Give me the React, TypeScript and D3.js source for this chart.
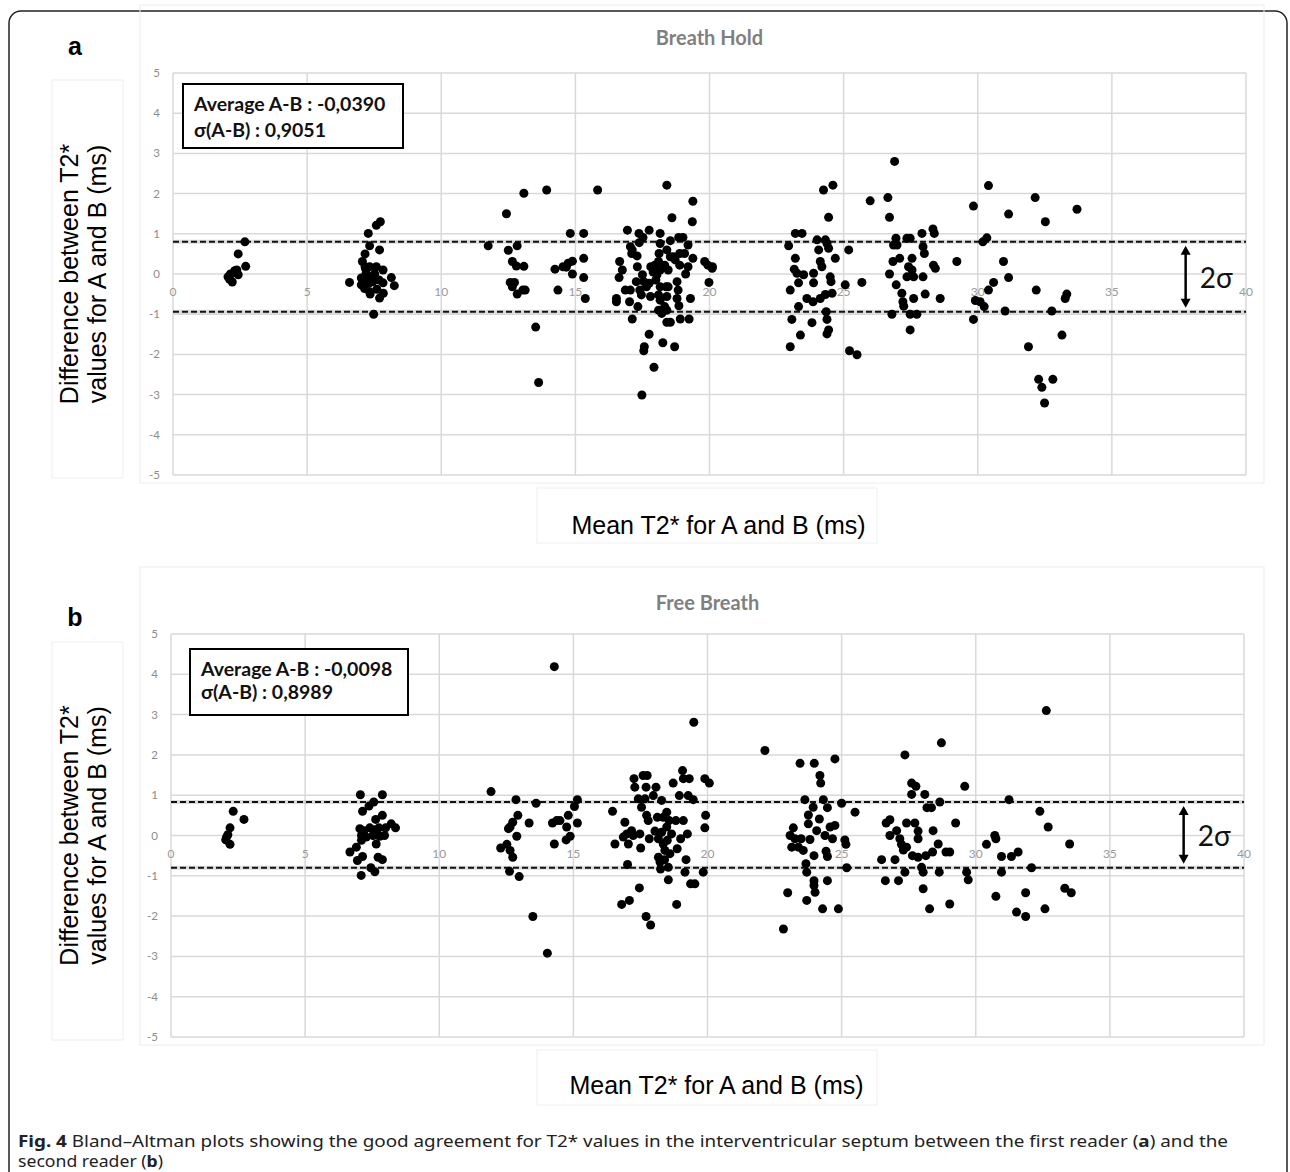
import React from "react";
import * as d3 from "d3";

// Panel a: Breath Hold  -- [mean T2*, difference A-B]
const breathHoldPoints: [number, number][] = [
  [2.68, 0.8], [2.43, 0.5], [2.71, 0.19], [2.05, -0.07], [2.21, -0.2], [2.3, 0.08], [2.38, 0.1], [2.43, -0.02], [2.14, 0.0], [2.11, -0.13],
  [6.58, -0.21], [7.28, 1.01], [7.58, 1.21], [7.73, 1.3], [7.7, 0.6], [7.33, 0.7], [7.16, 0.5], [7.06, 0.31], [7.16, 0.18], [7.33, 0.18],
  [7.58, 0.18], [7.83, 0.1], [7.02, -0.1], [7.2, 0.02], [7.39, -0.07], [7.52, 0.0], [7.68, -0.15], [8.14, -0.09], [8.25, -0.29], [7.83, -0.22],
  [7.02, -0.27], [7.14, -0.36], [7.33, -0.44], [7.35, -0.5], [7.6, -0.38], [7.84, -0.48], [7.7, -0.6], [7.48, -1.0], [7.3, -0.23], [7.45, -0.19],
  [7.27, -0.15], [7.18, 0.13],
  [11.75, 0.7], [12.43, 1.5], [13.08, 2.01], [13.93, 2.09], [12.5, 0.59], [12.83, 0.7], [12.65, 0.31], [12.8, 0.2], [13.08, 0.19], [12.57, -0.21],
  [12.73, -0.21], [12.65, -0.32], [12.83, -0.5], [13.04, -0.4], [13.13, -0.4], [13.52, -1.32], [13.63, -2.7], [14.24, 0.12], [14.35, -0.4],
  [14.81, 1.01], [15.31, 1.01], [15.83, 2.09], [14.54, 0.18], [14.73, 0.27], [14.89, 0.32], [14.89, 0.0], [15.31, 0.39], [15.31, -0.09],
  [15.37, -0.61], [14.66, 0.17],
  [16.53, -0.69], [16.53, -0.61], [16.63, -0.09], [16.65, 0.31], [16.75, 0.1], [16.94, 1.09], [17.05, 0.68], [17.12, 0.6], [17.1, 0.51],
  [16.86, -0.4], [17.05, -0.4], [17.02, -0.69], [17.12, -1.12], [17.31, 0.18], [17.27, -0.19], [17.33, -0.81], [17.37, 1.01], [17.52, 0.91],
  [17.75, 1.09], [17.5, -0.02], [17.55, -0.19], [17.4, -0.4], [17.46, -0.52], [17.65, -0.32], [17.75, -0.23], [17.8, -0.56], [17.81, 0.18],
  [17.96, 0.22], [17.75, -1.5], [17.57, -1.81], [17.55, -1.91], [17.93, -2.32], [17.48, -3.01], [18.16, 1.01], [18.16, 0.76], [18.12, 0.51],
  [18.1, 0.31], [18.16, 0.1], [18.04, -0.02], [18.16, -0.32], [18.1, -0.52], [18.16, -0.65], [18.1, -0.9], [18.22, -0.98], [18.26, -1.71],
  [18.41, 2.21], [18.6, 1.4], [18.54, 0.83], [18.41, 0.6], [18.54, 0.43], [18.33, 0.22], [18.46, 0.1], [18.38, -0.32], [18.46, -0.32],
  [18.41, -0.56], [18.33, -0.81], [18.41, -0.9], [18.41, -1.2], [18.54, -1.2], [18.7, -1.81], [18.66, 0.43], [18.72, 0.35], [18.85, 0.91],
  [19.01, 0.91], [18.89, 0.51], [19.07, 0.51], [18.89, 0.22], [19.2, 0.18], [19.2, 0.72], [19.38, 0.39], [19.11, 0.0], [18.79, -0.19],
  [18.83, -0.4], [18.79, -0.61], [18.86, -0.79], [18.91, -1.12], [19.24, -1.12], [19.29, -0.61], [19.36, 1.3], [19.38, 1.81], [19.82, 0.31],
  [19.94, 0.22], [20.1, 0.14], [19.98, -0.21], [20.11, 0.18], [17.38, 0.78], [17.3, 0.45], [17.9, 0.05], [18.0, -0.15],
  [22.95, 0.7], [23.01, -0.4], [23.01, -1.81], [23.07, -1.13], [23.2, 1.01], [23.45, 1.01], [23.2, 0.39], [23.16, 0.12], [23.26, 0.02],
  [23.32, -0.22], [23.32, -0.81], [23.39, -1.52], [23.51, -0.02], [23.63, -0.61], [23.82, -1.21], [23.86, -0.69], [23.88, 0.02], [23.88, -0.22],
  [24.01, 0.85], [24.07, 0.6], [24.13, 0.31], [24.13, -0.61], [24.19, 0.18], [24.25, 2.09], [24.6, 2.21], [24.32, 0.85], [24.38, 0.76],
  [24.44, 1.41], [24.44, 0.64], [24.35, -0.94], [24.38, -1.13], [24.44, -1.39], [24.38, -1.49], [24.5, -0.07], [24.53, -0.19], [24.57, -0.48],
  [24.69, 0.39], [24.32, -0.51], [25.19, 0.6], [25.06, -0.27], [25.22, -1.91], [25.5, -2.01], [25.68, -0.21], [25.99, 1.82],
  [26.65, 1.9], [26.71, 1.41], [26.9, 2.8], [26.95, 0.89], [26.86, 0.72], [26.99, 0.72], [27.09, 0.39], [26.84, 0.31], [26.71, 0.0],
  [26.96, -0.27], [27.17, -0.48], [27.21, -0.69], [27.24, -0.8], [26.8, -1.0], [27.36, 0.89], [27.48, 0.89], [27.55, 0.39], [27.42, 0.18],
  [27.55, 0.1], [27.36, -0.07], [27.61, -0.07], [27.61, -0.61], [27.48, -1.0], [27.73, -1.0], [27.48, -1.39], [27.92, 1.01], [27.96, 0.68],
  [28.01, 0.51], [27.96, -0.07], [28.04, -0.5], [28.33, 1.12], [28.38, 1.01], [28.35, 0.22], [28.42, 0.14], [28.6, -0.61], [29.22, 0.31],
  [29.84, 1.69], [29.84, -1.13], [29.91, -0.66], [30.09, -0.69], [30.24, -0.81], [30.19, 0.8], [30.34, 0.9], [30.4, 2.2], [30.4, -0.4],
  [30.59, -0.21], [30.96, 0.31], [31.15, 1.49], [31.15, -0.09], [31.02, -0.92], [31.89, -1.81], [32.14, 1.9], [32.18, -0.4], [32.27, -2.62],
  [32.39, -2.82], [32.49, -3.21], [32.8, -2.62], [32.52, 1.3], [32.76, -0.92], [33.14, -1.52], [33.26, -0.61], [33.32, -0.5], [33.7, 1.61],
];

// Panel b: Free Breath
const freeBreathPoints: [number, number][] = [
  [2.32, 0.6], [2.72, 0.4], [2.2, 0.19], [2.07, -0.04], [2.04, -0.11], [2.2, -0.22], [2.12, 0.02],
  [7.06, 1.01], [7.88, 1.01], [7.14, 0.6], [7.38, 0.73], [7.56, 0.83], [7.63, 0.4], [7.88, 0.5], [7.04, 0.17], [7.19, 0.12], [7.41, 0.19],
  [7.59, 0.14], [7.75, 0.19], [8.0, 0.19], [8.21, 0.29], [8.37, 0.19], [7.1, 0.0], [7.28, -0.04], [7.53, 0.0], [7.78, -0.02], [7.96, 0.0],
  [7.65, -0.21], [7.1, -0.12], [6.67, -0.41], [6.91, -0.29], [7.14, -0.52], [7.72, -0.54], [7.88, -0.6], [7.09, -0.99], [7.45, -0.8],
  [6.95, -0.62], [7.6, -0.9],
  [11.93, 1.09], [12.86, 0.89], [12.93, 0.5], [12.74, 0.33], [12.64, 0.21], [12.58, 0.17], [12.89, -0.02], [12.29, -0.31], [12.52, -0.22],
  [12.64, -0.37], [12.74, -0.54], [12.62, -0.89], [12.98, -1.02], [13.35, 0.31], [13.61, 0.8], [13.49, -2.01], [14.03, -2.92], [14.29, 4.19],
  [14.29, -0.21], [14.22, 0.31], [14.38, 0.37], [14.5, 0.37], [14.81, 0.5], [14.75, 0.21], [14.88, -0.02], [14.73, -0.11], [15.04, 0.72],
  [15.15, 0.89], [15.15, 0.31],
  [16.46, 0.6], [16.55, -0.21], [16.8, -1.71], [17.09, -1.61], [16.86, -0.04], [16.92, 0.33], [16.99, 0.04], [17.05, -0.21], [17.02, -0.72],
  [17.17, 0.12], [17.23, 0.0], [17.26, 1.41], [17.29, 1.2], [17.42, 0.91], [17.46, -1.3], [17.48, 0.04], [17.51, -0.31], [17.54, 0.7],
  [17.6, 1.49], [17.75, 1.49], [17.71, 1.2], [17.67, 0.91], [17.71, -2.01], [17.88, -2.22], [17.73, 0.5], [17.83, -0.08], [17.79, 0.37],
  [17.98, 0.99], [18.08, 1.2], [18.04, 0.11], [18.13, 0.45], [18.17, -0.08], [18.17, -0.54], [18.23, -0.66], [18.29, 0.87], [18.29, 0.08],
  [18.35, 0.45], [18.35, -0.21], [18.41, -0.37], [18.48, 0.58], [18.48, 0.21], [18.5, -0.12], [18.54, -0.79], [18.54, -1.1], [18.25, -0.83],
  [18.57, 0.37], [18.66, 0.04], [18.72, 1.3], [18.82, 0.37], [18.85, -1.71], [18.87, -0.33], [18.95, 0.99], [19.0, -0.08], [19.07, 1.61],
  [19.1, 1.41], [19.1, 0.37], [19.16, -0.91], [19.2, -0.6], [19.25, 0.04], [19.28, 0.99], [19.32, 1.41], [19.37, -1.2], [19.53, -1.2],
  [19.49, 2.81], [19.47, 0.89], [19.84, -0.91], [19.9, 1.41], [20.07, 1.3], [19.93, 0.5], [19.9, 0.19], [18.4, -0.6], [18.6, -0.45],
  [22.14, 2.11], [22.83, -2.32], [22.99, -1.42], [23.08, 0.0], [23.14, -0.29], [23.2, 0.19], [23.26, -0.08], [23.39, -0.29], [23.45, 1.79],
  [23.98, 1.79], [23.49, -0.08], [23.57, -0.37], [23.63, 0.89], [23.67, -0.7], [23.7, -0.91], [23.7, -1.61], [23.76, 0.29], [23.82, -0.1],
  [23.76, 0.51], [23.94, 0.7], [23.97, -0.5], [23.97, -1.12], [23.97, -1.24], [24.01, -1.41], [24.07, 0.12], [24.17, 0.41], [24.19, 1.49],
  [24.22, 1.3], [24.32, 0.89], [24.29, -1.82], [24.38, 0.0], [24.42, -0.39], [24.47, -0.52], [24.47, 0.69], [24.47, -1.12], [24.57, 0.21],
  [24.66, -0.08], [24.75, 0.25], [24.75, 1.9], [24.88, -1.82], [25.0, 0.8], [25.12, -0.11], [25.16, -0.22], [25.19, -0.8], [25.5, 0.58],
  [26.49, -0.6], [26.63, -1.12], [26.66, 0.31], [26.8, 0.39], [26.8, 0.0], [26.99, -0.6], [27.05, 0.12], [27.12, -1.12], [27.17, -0.08],
  [27.23, -0.22], [27.3, -0.36], [27.36, 2.0], [27.36, -0.91], [27.42, 0.31], [27.42, -0.29], [27.61, 1.3], [27.61, 1.02], [27.64, -0.5],
  [27.73, 0.31], [27.77, 1.22], [27.85, 0.11], [27.85, -0.08], [27.85, -0.54], [27.98, -0.79], [28.04, -0.91], [28.04, -1.32], [28.1, 1.02],
  [28.14, -0.5], [28.18, 0.69], [28.28, -1.82], [28.35, 0.69], [28.41, 0.12], [28.39, -0.41], [28.6, -0.21], [28.64, -0.91], [28.66, 0.83],
  [28.72, 2.3], [28.89, -0.41], [29.03, -0.41], [29.03, -1.7], [29.25, 0.31], [29.59, 1.22], [29.66, -0.91], [29.72, -1.1],
  [30.4, -0.22], [30.71, 0.0], [30.75, -0.08], [30.75, -1.51], [30.96, -0.52], [30.96, -0.91], [31.24, 0.89], [31.33, -0.52], [31.58, -0.41],
  [31.52, -1.9], [31.86, -2.01], [31.86, -1.42], [32.08, -0.8], [32.39, 0.6], [32.58, -1.82], [32.7, 0.21], [33.32, -1.31], [33.56, -1.42],
  [33.5, -0.21], [32.63, 3.1],
];

const breathHoldLimits = [0.8, -0.94];
const freeBreathLimits = [0.83, -0.8];
const xTicks = [0, 5, 10, 15, 20, 25, 30, 35, 40];
const yTicks = [5, 4, 3, 2, 1, 0, -1, -2, -3, -4, -5];
const breathHoldStats = ["Average A-B : -0,0390", "\u03c3(A-B) : 0,9051"];
const freeBreathStats = ["Average A-B : -0,0098", "\u03c3(A-B) : 0,8989"];

const AXIS_FONT = "'Liberation Sans', Arial, sans-serif";
const CAL_FONT = "Lato, 'Open Sans', sans-serif";

type PanelProps = {
  top: number;
  letter: string;
  letterY: number;
  titleY: number;
  xTitleY: number;
  title: string;
  points: [number, number][];
  limits: number[];
  stats: string[];
  xRange: [number, number];
  yRange: [number, number];
  box: { x: number; y: number; w: number; h: number; gap: number };
};

const Panel = ({ top, letter, letterY, titleY, xTitleY, title, points, limits, stats, xRange, yRange, box }: PanelProps) => {
  const x = d3.scaleLinear().domain([0, 40]).range(xRange);
  const y = d3.scaleLinear().domain([5, -5]).range(yRange);
  const y0 = y(0);
  const up = y(limits[0]);
  const lo = y(limits[1]);
  const arrowX = x(37.75);
  return (
    <g>
      {/* faint chart frames */}
      <rect x={52} y={top + 80} width={71} height={398} fill="none" stroke="#efefef" />
      <rect x={140} y={top + 5} width={1124} height={478} fill="none" stroke="#ececec" />
      <rect x={537} y={top + 488} width={340} height={55} fill="none" stroke="#f0f0f0" />

      <text x={75} y={letterY} fontFamily={AXIS_FONT} fontWeight="bold" fontSize={25} textAnchor="middle">
        {letter}
      </text>
      <text x={x(20)} y={titleY} fontFamily={CAL_FONT} fontWeight="bold" fontSize={20} fill="#7f7f7f" textAnchor="middle">
        {title}
      </text>

      {/* grid */}
      {yTicks.map((t) => (
        <line key={"gy" + t} x1={xRange[0]} x2={xRange[1]} y1={y(t)} y2={y(t)} stroke="#d9d9d9" strokeWidth={1.5} />
      ))}
      {xTicks.map((t) => (
        <line key={"gx" + t} x1={x(t)} x2={x(t)} y1={yRange[0]} y2={yRange[1]} stroke="#d9d9d9" strokeWidth={1.5} />
      ))}
      {yTicks.map((t) => (
        <text key={"ty" + t} x={xRange[0] - 13} y={y(t) + 4} fontFamily={CAL_FONT} fontSize={11.5} fill="#8c8c8c" textAnchor="end">
          {t}
        </text>
      ))}
      {xTicks.map((t) => (
        <text key={"tx" + t} x={x(t)} y={y0 + 22} fontFamily={CAL_FONT} fontSize={12} fill="#9a9a9a" textAnchor="middle">
          {t}
        </text>
      ))}

      {/* limits of agreement */}
      {[up, lo].map((v, i) => (
        <g key={"lim" + i}>
          <line x1={xRange[0]} x2={xRange[1]} y1={v} y2={v} stroke="#bdbdbd" strokeWidth={4} opacity={0.5} />
          <line x1={xRange[0]} x2={xRange[1]} y1={v} y2={v} stroke="#111" strokeWidth={2} strokeDasharray="6,3" />
        </g>
      ))}

      {points.map((p, i) => (
        <circle key={i} cx={x(p[0])} cy={y(p[1])} r={4.5} fill="#000" />
      ))}

      {/* stats box */}
      <rect x={box.x} y={top + box.y} width={box.w} height={box.h} fill="#fff" stroke="#000" strokeWidth={2} />
      <text x={box.x + 11} y={top + box.y + 27} fontFamily={CAL_FONT} fontWeight="bold" fontSize={19.5} fill="#111">
        {stats[0]}
      </text>
      <text x={box.x + 11} y={top + box.y + 27 + box.gap} fontFamily={CAL_FONT} fontWeight="bold" fontSize={19.5} fill="#111">
        {stats[1]}
      </text>

      {/* 2 sigma arrow */}
      <line x1={arrowX} x2={arrowX} y1={up + 10} y2={lo - 10} stroke="#000" strokeWidth={2.5} />
      <path d={`M${arrowX - 5},${up + 13} L${arrowX},${up + 4} L${arrowX + 5},${up + 13} Z`} fill="#000" />
      <path d={`M${arrowX - 5},${lo - 13} L${arrowX},${lo - 4} L${arrowX + 5},${lo - 13} Z`} fill="#000" />
      <text x={arrowX + 14} y={(up + lo) / 2 + 11} fontFamily={CAL_FONT} fontSize={28} fill="#111">
        2σ
      </text>

      {/* axis titles */}
      <text transform={`translate(78,${y0}) rotate(-90)`} fontFamily={AXIS_FONT} fontSize={25} textAnchor="middle">
        Difference between T2*
      </text>
      <text transform={`translate(106,${y0}) rotate(-90)`} fontFamily={AXIS_FONT} fontSize={25} textAnchor="middle">
        values for A and B (ms)
      </text>
      <text x={x(20) + 9} y={xTitleY} fontFamily={AXIS_FONT} fontSize={25} textAnchor="middle">
        Mean T2* for A and B (ms)
      </text>
    </g>
  );
};

const App = () => {
  return (
    <svg width={1290} height={1172} style={{ position: "absolute", left: 0, top: 0, background: "#fff" }}>
      <rect x={9} y={11} width={1278} height={1190} rx={12} fill="#fff" stroke="#222" strokeWidth={1.5} />
      <Panel
        top={0}
        letter="a"
        letterY={55}
        titleY={45}
        xTitleY={534}
        title="Breath Hold"
        points={breathHoldPoints}
        limits={breathHoldLimits}
        stats={breathHoldStats}
        xRange={[173, 1246]}
        yRange={[73, 475]}
        box={{ x: 183, y: 84, w: 220, h: 64, gap: 26 }}
      />
      <Panel
        top={562}
        letter="b"
        letterY={626}
        titleY={610}
        xTitleY={1094}
        title="Free Breath"
        points={freeBreathPoints}
        limits={freeBreathLimits}
        stats={freeBreathStats}
        xRange={[171, 1244]}
        yRange={[634, 1037]}
        box={{ x: 190, y: 87, w: 218, h: 66, gap: 23 }}
      />
      <text x={18} y={1147} fontFamily="'Noto Sans', sans-serif" fontSize={15.5} fill="#222" textLength={1210} lengthAdjust="spacingAndGlyphs">
        <tspan fontWeight="bold">Fig. 4</tspan> Bland–Altman plots showing the good agreement for T2* values in the interventricular septum
        between the first reader (<tspan fontWeight="bold">a</tspan>) and the
      </text>
      <text x={18} y={1167} fontFamily="'Noto Sans', sans-serif" fontSize={15.5} fill="#222" textLength={145} lengthAdjust="spacingAndGlyphs">
        second reader (<tspan fontWeight="bold">b</tspan>)
      </text>
    </svg>
  );
};

export default App;
